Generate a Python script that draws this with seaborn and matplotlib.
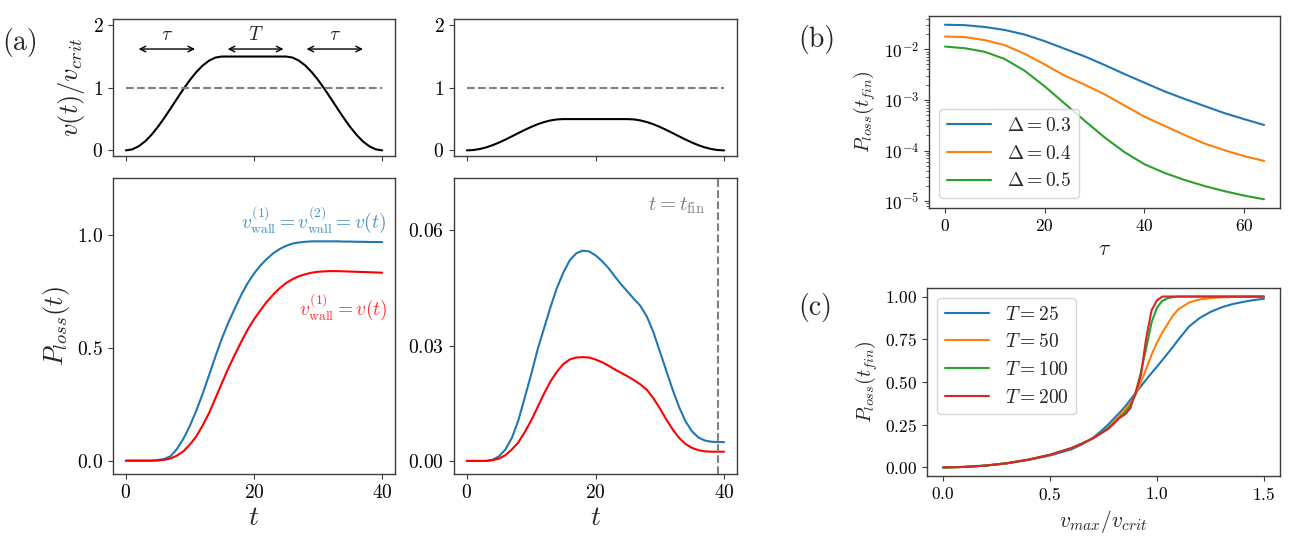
import numpy as np
import pandas as pd
import matplotlib
matplotlib.use("Agg")
import matplotlib.pyplot as plt
import seaborn as sns

# ---- data ----
t = list(range(0, 41))

# velocity profile v(t)/v_crit (ramp tau=15, plateau T=10)
v_profile = [0.0, 0.016, 0.065, 0.143, 0.248, 0.375, 0.518, 0.672, 0.828, 0.982,
             1.125, 1.252, 1.357, 1.435, 1.484, 1.5, 1.5, 1.5, 1.5, 1.5,
             1.5, 1.5, 1.5, 1.5, 1.5, 1.5, 1.484, 1.435, 1.357, 1.252,
             1.125, 0.982, 0.828, 0.672, 0.518, 0.375, 0.248, 0.143, 0.065, 0.016, 0.0]
v_low = [round(v / 3.0, 4) for v in v_profile]  # same shape, max 0.5

ploss_both_fast = [0, 0, 0, 0, 0.0005, 0.003, 0.008, 0.02, 0.053, 0.098,
                   0.155, 0.222, 0.298, 0.38, 0.464, 0.543, 0.613, 0.675, 0.735, 0.787,
                   0.83, 0.866, 0.895, 0.92, 0.939, 0.953, 0.963, 0.968, 0.971, 0.973,
                   0.973, 0.973, 0.973, 0.973, 0.972, 0.972, 0.971, 0.971, 0.970, 0.970, 0.970]
ploss_one_fast = [0, 0, 0, 0, 0, 0.001, 0.004, 0.01, 0.023, 0.042,
                  0.072, 0.108, 0.157, 0.212, 0.278, 0.345, 0.41, 0.47, 0.527, 0.581,
                  0.627, 0.667, 0.705, 0.737, 0.765, 0.788, 0.805, 0.818, 0.827, 0.834,
                  0.838, 0.840, 0.841, 0.841, 0.840, 0.839, 0.838, 0.837, 0.836, 0.835, 0.834]

ploss_both_slow = [0, 0, 0, 0, 0.0003, 0.0012, 0.003, 0.006, 0.0105, 0.0165,
                   0.0225, 0.029, 0.0345, 0.04, 0.045, 0.049, 0.0522, 0.054, 0.0547, 0.0545,
                   0.0535, 0.052, 0.0502, 0.048, 0.0459, 0.044, 0.0421, 0.0403, 0.0375, 0.0335,
                   0.0285, 0.0235, 0.0185, 0.014, 0.0103, 0.0077, 0.0061, 0.0053, 0.005, 0.0049, 0.0049]
ploss_one_slow = [0, 0, 0, 0, 0.0002, 0.0006, 0.0015, 0.003, 0.0048, 0.0075,
                  0.0105, 0.014, 0.0175, 0.0207, 0.0232, 0.0252, 0.0264, 0.0269, 0.027, 0.0269,
                  0.0264, 0.0257, 0.0248, 0.0238, 0.0229, 0.022, 0.021, 0.0199, 0.0185, 0.0163,
                  0.0137, 0.0108, 0.0082, 0.006, 0.0044, 0.0034, 0.0028, 0.0025, 0.0024, 0.0024, 0.0024]

# panel (b)
tau = [0, 4, 8, 12, 16, 20, 24, 28, 32, 36, 40, 44, 48, 52, 56, 60, 64]
ploss_d03 = [0.0305, 0.0299, 0.0275, 0.0240, 0.0195, 0.01445, 0.01023, 0.00724, 0.0049,
             0.00324, 0.00219, 0.00148, 0.00105, 7.6e-4, 5.5e-4, 4.17e-4, 3.2e-4]
ploss_d04 = [0.01786, 0.01738, 0.01514, 0.01202, 0.00813, 0.00501, 0.00302, 0.0020, 0.00129,
             7.76e-4, 4.68e-4, 3.09e-4, 2.04e-4, 1.38e-4, 1.02e-4, 7.76e-5, 6.24e-5]
ploss_d05 = [0.0113, 0.01047, 0.0089, 0.0064, 0.00375, 0.00185, 8.5e-4, 3.89e-4, 1.82e-4,
             9.3e-5, 5.37e-5, 3.63e-5, 2.63e-5, 2.0e-5, 1.58e-5, 1.29e-5, 1.09e-5]
deltas = ["0.3", "0.4", "0.5"]

# panel (c)
vmax_ratio = [0, 0.1, 0.2, 0.3, 0.4, 0.5, 0.6, 0.65, 0.7, 0.725, 0.75, 0.775, 0.8, 0.825,
              0.85, 0.875, 0.9, 0.925, 0.95, 0.975, 1.0, 1.025, 1.05, 1.075, 1.1, 1.15,
              1.2, 1.25, 1.3, 1.35, 1.4, 1.45, 1.5]
ploss_T25 = [0, 0.003, 0.011, 0.024, 0.044, 0.07, 0.106, 0.135, 0.172, 0.198, 0.225, 0.255, 0.288,
             0.32, 0.355, 0.395, 0.435, 0.475, 0.515, 0.553, 0.59, 0.628, 0.667, 0.706, 0.748, 0.825,
             0.875, 0.91, 0.936, 0.955, 0.968, 0.979, 0.987]
ploss_T50 = [0, 0.003, 0.011, 0.025, 0.046, 0.074, 0.113, 0.14, 0.17, 0.188, 0.21, 0.238, 0.27,
             0.305, 0.34, 0.375, 0.425, 0.50, 0.58, 0.66, 0.73, 0.79, 0.84, 0.89, 0.925, 0.965,
             0.983, 0.991, 0.995, 0.997, 0.998, 0.999, 0.999]
ploss_T100 = [0, 0.003, 0.011, 0.025, 0.046, 0.074, 0.113, 0.14, 0.17, 0.19, 0.21, 0.235, 0.262,
              0.292, 0.322, 0.36, 0.43, 0.56, 0.70, 0.85, 0.935, 0.975, 0.99, 0.997, 1.0, 1.0,
              1.0, 1.0, 1.0, 1.0, 1.0, 1.0, 1.0]
ploss_T200 = [0, 0.003, 0.011, 0.025, 0.046, 0.074, 0.113, 0.14, 0.17, 0.19, 0.208, 0.228, 0.258,
              0.29, 0.31, 0.345, 0.44, 0.54, 0.76, 0.92, 0.978, 1.0, 1.0, 1.0, 1.0, 1.0,
              1.0, 1.0, 1.0, 1.0, 1.0, 1.0, 1.0]
T_values = ["25", "50", "100", "200"]

# ---- style ----
sns.set_style("ticks")
plt.rcParams.update({
    "font.family": "serif",
    "font.serif": ["cmr10", "DejaVu Serif"],
    "mathtext.fontset": "cm",
    "axes.formatter.use_mathtext": True,
    "axes.edgecolor": "#3c3c3c",
    "axes.linewidth": 1.0,
    "xtick.color": "#3c3c3c",
    "ytick.color": "#3c3c3c",
    "xtick.labelcolor": "black",
    "ytick.labelcolor": "black",
    "axes.unicode_minus": False,
})

W, H = 1297, 542
fig = plt.figure(figsize=(W / 100, H / 100), dpi=100)


def add_ax(x0, y0, x1, y1):
    # pixel box (left, top, right, bottom) -> figure fraction
    return fig.add_axes([x0 / W, 1 - y1 / H, (x1 - x0) / W, (y1 - y0) / H])


ax_v1 = add_ax(113, 19, 395, 156)
ax_v2 = add_ax(454, 19, 737, 156)
ax_p1 = add_ax(113, 178, 395, 474)
ax_p2 = add_ax(454, 178, 737, 474)
ax_b = add_ax(929, 16, 1280, 208)
ax_c = add_ax(927, 288, 1280, 476)

tick_big = 14
lab_big = 19
tick_small = 12.5
lab_small = 14.5

# velocity profiles
for ax, vv in [(ax_v1, v_profile), (ax_v2, v_low)]:
    sns.lineplot(x=t, y=vv, ax=ax, color="black", lw=1.5)
    ax.axhline(1.0, xmin=0.045, xmax=0.955, color="grey", ls="--", lw=1.5)
    ax.set_ylim(-0.09, 2.1)
    ax.set_yticks([0, 1, 2])
    ax.set_xticks([0, 20, 40])
    ax.set_xticklabels([])
    ax.tick_params(labelsize=tick_big)
ax_v1.set_ylabel(r"$v(t)/v_{crit}$", fontsize=lab_big)

arrow_kw = dict(arrowstyle="<->", color="black", lw=1.0, shrinkA=0, shrinkB=0)
for (a, b), lab in zip([(2.0, 10.8), (15.9, 24.6), (28.2, 37.0)], [r"$\tau$", r"$T$", r"$\tau$"]):
    ax_v1.annotate("", xy=(b, 1.62), xytext=(a, 1.62), arrowprops=arrow_kw)
    ax_v1.text((a + b) / 2, 1.70, lab, ha="center", va="bottom", fontsize=14)

# loss probabilities over time
blue = "#1f77b4"
for ax, pb, pr in [(ax_p1, ploss_both_fast, ploss_one_fast),
                   (ax_p2, ploss_both_slow, ploss_one_slow)]:
    sns.lineplot(x=t, y=pb, ax=ax, color=blue, lw=1.5)
    sns.lineplot(x=t, y=pr, ax=ax, color="red", lw=1.5)
    ax.set_xticks([0, 20, 40])
    ax.set_xlabel(r"$t$", fontsize=lab_big + 1, labelpad=2)
    ax.tick_params(labelsize=tick_big)

ax_p1.set_ylim(-0.059, 1.254)
ax_p1.set_yticks([0.0, 0.5, 1.0])
ax_p1.set_ylabel(r"$P_{loss}(t)$", fontsize=lab_big)
ax_p1.text(40.6, 1.0, r"$v^{(1)}_{\rm wall} = v^{(2)}_{\rm wall} = v(t)$", color=blue,
           alpha=0.8, ha="right", va="bottom", fontsize=14)
ax_p1.text(40.9, 0.75, r"$v^{(1)}_{\rm wall} = v(t)$", color="red", alpha=0.8,
           ha="right", va="top", fontsize=14)

ax_p2.set_ylim(-0.0034, 0.0736)
ax_p2.set_yticks([0.0, 0.03, 0.06])
ax_p2.axvline(39, color="grey", ls="--", lw=1.5)
ax_p2.text(37.0, 0.0663, r"$t = t_{\rm fin}$", color="grey", ha="right", va="center", fontsize=15)

# panel (b)
df_b = pd.DataFrame({
    "tau": tau * 3,
    "P": ploss_d03 + ploss_d04 + ploss_d05,
    "Delta": [r"$\Delta = %s$" % d for d in deltas for _ in tau],
})
sns.lineplot(data=df_b, x="tau", y="P", hue="Delta", palette="tab10", ax=ax_b, lw=1.5)
ax_b.set_yscale("log")
ax_b.set_xticks([0, 20, 40, 60])
ax_b.set_xlabel(r"$\tau$", fontsize=lab_small + 1)
ax_b.set_ylabel(r"$P_{loss}(t_{fin})$", fontsize=lab_small)
ax_b.tick_params(labelsize=tick_small)
ax_b.legend(title=None, loc="lower left", fontsize=14, handlelength=2.3)

# panel (c)
df_c = pd.DataFrame({
    "vr": vmax_ratio * 4,
    "P": ploss_T25 + ploss_T50 + ploss_T100 + ploss_T200,
    "T": [r"$T = %s$" % v for v in T_values for _ in vmax_ratio],
})
sns.lineplot(data=df_c, x="vr", y="P", hue="T", palette="tab10", ax=ax_c, lw=1.5)
ax_c.set_xticks([0.0, 0.5, 1.0, 1.5])
ax_c.set_xlabel(r"$v_{max}/v_{crit}$", fontsize=lab_small + 1)
ax_c.set_ylabel(r"$P_{loss}(t_{fin})$", fontsize=lab_small)
ax_c.tick_params(labelsize=tick_small)
ax_c.legend(title=None, loc="upper left", fontsize=14, handlelength=2.3)

# panel tags
fig.text(2 / W, 1 - 42 / H, "(a)", fontsize=20, va="center", ha="left")
fig.text(798 / W, 1 - 40 / H, "(b)", fontsize=20, va="center", ha="left")
fig.text(798 / W, 1 - 308 / H, "(c)", fontsize=20, va="center", ha="left")

fig.savefig("out.png", dpi=100)
